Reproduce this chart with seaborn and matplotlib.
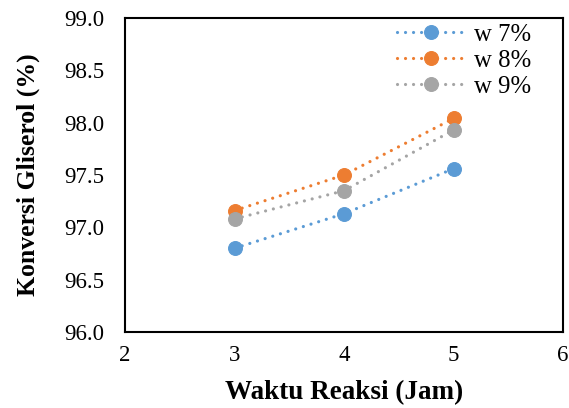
import matplotlib
matplotlib.use("Agg")
import matplotlib.pyplot as plt
import pandas as pd
import seaborn as sns

waktu = [3, 4, 5]
w7 = [96.80, 97.13, 97.56]
w8 = [97.16, 97.50, 98.04]
w9 = [97.08, 97.35, 97.93]
labels = ["w 7%", "w 8%", "w 9%"]
colors = ["#5B9BD5", "#ED7D31", "#A5A5A5"]

df = pd.DataFrame({
    "Waktu": waktu * 3,
    "Konversi": w7 + w8 + w9,
    "Seri": [labels[0]] * 3 + [labels[1]] * 3 + [labels[2]] * 3,
})

sns.set_style("white")
plt.rcParams["font.family"] = ["Liberation Serif", "DejaVu Serif"]
plt.rcParams["text.color"] = "black"
plt.rcParams["axes.labelcolor"] = "black"
plt.rcParams["xtick.color"] = "black"
plt.rcParams["ytick.color"] = "black"

fig = plt.figure(figsize=(5.69, 4.08), dpi=100)
ax = fig.add_axes([0.2197, 0.1863, 0.7698, 0.7696])

for lab, col in zip(labels, colors):
    sub = df[df["Seri"] == lab]
    sns.lineplot(data=sub, x="Waktu", y="Konversi", ax=ax, color=col,
                 label=lab, marker="o", markersize=10, markeredgecolor=col,
                 linewidth=2.3, linestyle=(0, (0.01, 2.5)),
                 dash_capstyle="round")

ax.set_xlim(2, 6)
ax.set_ylim(96.0, 99.0)
ax.set_xticks([2, 3, 4, 5, 6])
ax.set_yticks([96.0, 96.5, 97.0, 97.5, 98.0, 98.5, 99.0])
ax.set_yticklabels([f"{v:.1f}" for v in ax.get_yticks()])
ax.tick_params(labelsize=16.5, length=0)
ax.tick_params(axis="y", pad=15)
ax.tick_params(axis="x", pad=9.5)
for s in ax.spines.values():
    s.set_color("black")
    s.set_linewidth(1.5)

ax.set_xlabel("Waktu Reaksi (Jam)", fontsize=19.5, fontweight="bold", labelpad=10)
ax.set_ylabel("Konversi Gliserol (%)", fontsize=18.5, fontweight="bold", labelpad=17)

ax.legend(loc="upper left", frameon=False, fontsize=17.8, handlelength=2.8,
          handletextpad=0.35, labelspacing=0.15, borderpad=0, borderaxespad=0,
          bbox_to_anchor=(0.62, 0.982))

fig.savefig("out.png", dpi=100)
